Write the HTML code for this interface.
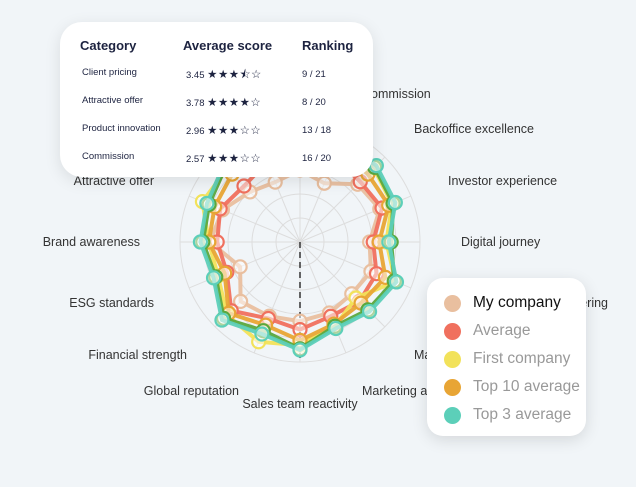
<!DOCTYPE html>
<html><head><meta charset="utf-8"><style>
body{margin:0;width:636px;height:487px;background:#f1f5f8;font-family:"Liberation Sans",sans-serif;overflow:hidden;position:relative}
svg{position:absolute;left:0;top:0}
.tip{position:absolute;left:60px;top:22px;width:313px;height:155px;background:#fff;border-radius:22px;box-shadow:0 4px 16px rgba(0,0,0,.1);color:#1d2340}
.tip div{position:absolute;white-space:nowrap}
.h{font-weight:bold;font-size:13px}
.r{font-size:9.5px}
.st{font-size:11.5px;letter-spacing:0.5px}
.leg{position:absolute;left:427px;top:278px;width:159px;height:158px;background:#fff;border-radius:16px;box-shadow:0 4px 16px rgba(0,0,0,.12)}
.leg div{position:absolute;left:46px;font-size:15.5px;color:#999;white-space:nowrap}
.leg span{position:absolute;left:17px;width:17px;height:17px;border-radius:50%}
</style></head><body>
<svg id="s" width="636" height="487" font-family="Liberation Sans, sans-serif" font-size="12.5" fill="#333"></svg>
<div class="tip">
<div class="h" style="left:20px;top:16px">Category</div>
<div class="h" style="left:123px;top:16px">Average score</div>
<div class="h" style="left:242px;top:16px">Ranking</div>
<div class="r" style="left:22px;top:45px">Client pricing</div><div class="r" style="left:126px;top:45px">3.45 <span class="st">★★★⯪☆</span></div><div class="r" style="left:242px;top:47px">9 / 21</div>
<div class="r" style="left:22px;top:73px">Attractive offer</div><div class="r" style="left:126px;top:73px">3.78 <span class="st">★★★★☆</span></div><div class="r" style="left:242px;top:75px">8 / 20</div>
<div class="r" style="left:22px;top:101px">Product innovation</div><div class="r" style="left:126px;top:101px">2.96 <span class="st">★★★☆☆</span></div><div class="r" style="left:242px;top:103px">13 / 18</div>
<div class="r" style="left:22px;top:129px">Commission</div><div class="r" style="left:126px;top:129px">2.57 <span class="st">★★★☆☆</span></div><div class="r" style="left:242px;top:131px">16 / 20</div>
</div>
<div class="leg">
<span style="top:17px;background:#e9bf9f"></span><div style="top:16px;color:#111">My company</div>
<span style="top:45px;background:#f0705e"></span><div style="top:44px">Average</div>
<span style="top:73px;background:#f2e25a"></span><div style="top:72px">First company</div>
<span style="top:101px;background:#e8a535"></span><div style="top:100px">Top 10 average</div>
<span style="top:129px;background:#5ccfb9"></span><div style="top:128px">Top 3 average</div>
</div>
<script>
var s=document.getElementById('s'),cx=300,cy=242,R=120,h='';
for(var k=1;k<=5;k++)h+='<circle cx="'+cx+'" cy="'+cy+'" r="'+(24*k)+'" fill="none" stroke="#ddd" stroke-width="1"/>';
function P(i,r){var a=i*Math.PI/8;return [cx+Math.sin(a)*r*R,cy-Math.cos(a)*r*R];}
for(var i=0;i<16;i++){var p=P(i,1);h+='<line x1="'+cx+'" y1="'+cy+'" x2="'+p[0]+'" y2="'+p[1]+'" stroke="#ddd"/>';}
var labs=[["Client pricing",300,80,"middle"],["Commission",362,98,"start"],["Backoffice excellence",414,133,"start"],["Investor experience",448,185,"start"],["Digital journey",461,246,"start"],["Service offering",608,307,"end"],["Marketing materials",414,359,"start"],["Marketing and brand",362,395,"start"],["Sales team reactivity",300,408,"middle"],["Global reputation",239,395,"end"],["Financial strength",187,359,"end"],["ESG standards",154,307,"end"],["Brand awareness",140,246,"end"],["Attractive offer",154,185,"end"],["Product innovation",187,133,"end"],["Client pricing",239,98,"end"]];
labs.forEach(function(l){h+='<text x="'+l[1]+'" y="'+l[2]+'" text-anchor="'+l[3]+'">'+l[0]+'</text>';});
h+='<line x1="300" y1="242" x2="300" y2="362" stroke="#333" stroke-width="1.5" stroke-dasharray="6,4"/>';
var S=[["#e9bf9f",[.6,.53,.68,.72,.58,.64,.61,.64,.66,.67,.70,.54,.75,.7,.59,.54]],
["#f0705e",[.75,.76,.71,.74,.61,.69,.7,.67,.73,.69,.81,.66,.69,.72,.66,.72]],
["#f2e25a",[.88,.9,.87,.83,.72,.86,.66,.76,.86,.9,.86,.74,.76,.88,.86,.88]],
["#e8a535",[.82,.84,.8,.8,.66,.77,.72,.74,.82,.75,.84,.68,.76,.77,.8,.82]],
["#5aa83e",[.88,.9,.88,.84,.76,.85,.8,.76,.89,.8,.9,.76,.81,.82,.88,.88]],
["#5ccfb9",[.9,.92,.9,.86,.74,.87,.82,.78,.9,.83,.92,.78,.83,.84,.9,.9]]];
S.forEach(function(sr){var pts=[];for(var i=0;i<16;i++)pts.push(P(i,sr[1][i]).join(','));
h+='<polygon points="'+pts.join(' ')+'" fill="none" stroke="'+sr[0]+'" stroke-width="4" stroke-linejoin="round" opacity=".95"/>';
for(var i=0;i<16;i++){var p=P(i,sr[1][i]);h+='<circle cx="'+p[0]+'" cy="'+p[1]+'" r="6.5" fill="rgba(255,255,255,.5)" stroke="'+sr[0]+'" stroke-width="2.2"/>';}});
s.innerHTML=h;
</script>
</body></html>
